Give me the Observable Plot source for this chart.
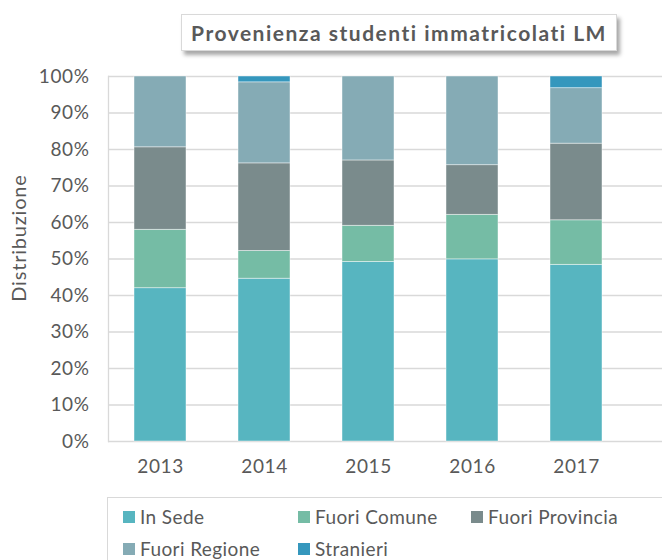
<!DOCTYPE html>
<html>
<head>
<meta charset="utf-8">
<script src="https://cdn.jsdelivr.net/npm/d3@7"></script>
<script src="https://cdn.jsdelivr.net/npm/@observablehq/plot@0.6"></script>
<style>
  html, body { margin: 0; padding: 0; background: #fff; }
  #wrap { position: relative; width: 662px; height: 560px; overflow: hidden; font-family: Lato, "Open Sans", sans-serif; color: #595959; }
  #chart { position: absolute; left: 0; top: 0; }
  #chart text { letter-spacing: 0.6px; }
  #title { position: absolute; left: 181px; top: 14px; width: 434px; height: 35px; background: #fff;
           border: 1px solid #d9d9d9; box-shadow: 3px 4px 4px rgba(0,0,0,0.35);
           display: flex; align-items: center; justify-content: center;
           font-weight: bold; font-size: 21px; letter-spacing: 1.5px; color: #595959; white-space: nowrap; }
  #ylabel { position: absolute; left: 18px; top: 238px; transform: translate(-50%, -50%) rotate(-90deg);
            font-size: 20px; letter-spacing: 0.8px; white-space: nowrap; }
  #legend { position: absolute; left: 107px; top: 497px; width: 600px; height: 80px; border: 1px solid #d9d9d9; background: #fff; }
  .item { position: absolute; display: flex; align-items: center; font-size: 19px; letter-spacing: 0.4px; white-space: nowrap; }
  .sw { width: 12px; height: 12px; margin-right: 5px; }
</style>
</head>
<body>
<div id="wrap">
  <div id="chart"></div>
  <div id="title">Provenienza studenti immatricolati LM</div>
  <div id="ylabel">Distribuzione</div>
  <div id="legend"></div>
</div>
<script>
const years = ["2013", "2014", "2015", "2016", "2017"];
const seriesNames = ["In Sede", "Fuori Comune", "Fuori Provincia", "Fuori Regione", "Stranieri"];
const colors = ["#57b5c0", "#75bca5", "#7a8b8c", "#85abb5", "#3597bd"];
// percentages per year
const inSede        = [42.0, 44.6, 49.2, 49.9, 48.4];
const fuoriComune   = [16.0,  7.6,  9.9, 12.2, 12.2];
const fuoriProvincia= [22.6, 24.0, 17.9, 13.6, 21.0];
const fuoriRegione  = [19.4, 22.2, 23.0, 24.3, 15.2];
const stranieri     = [ 0.0,  1.6,  0.0,  0.0,  3.2];
const yTicks = [0, 0.1, 0.2, 0.3, 0.4, 0.5, 0.6, 0.7, 0.8, 0.9, 1.0];

const seriesValues = [inSede, fuoriComune, fuoriProvincia, fuoriRegione, stranieri];
const data = [];
seriesNames.forEach((s, si) => {
  years.forEach((y, yi) => {
    const v = seriesValues[si][yi];
    if (v > 0) data.push({year: y, series: s, value: v / 100});
  });
});

const chart = Plot.plot({
  width: 662,
  height: 490,
  marginLeft: 108,
  marginRight: 0,
  marginTop: 76,
  marginBottom: 49,
  style: {fontFamily: "Lato, 'Open Sans', sans-serif", fontSize: "19px", color: "#595959", background: "transparent"},
  x: {domain: years, range: [108, 628], paddingInner: 0.5, paddingOuter: 0.25, label: null},
  y: {domain: [0, 1], label: null},
  color: {domain: seriesNames, range: colors},
  marks: [
    Plot.ruleY(yTicks, {stroke: "#d9d9d9", strokeWidth: 1.3}),
    Plot.frame({anchor: "left", stroke: "#d9d9d9", strokeWidth: 1.3}),
    Plot.barY(data, {x: "year", y: "value", fill: "series", z: "series", order: seriesNames,
                     stroke: "#ffffff", strokeOpacity: 0.55, strokeWidth: 0.8}),
    Plot.axisY({ticks: yTicks, tickFormat: d3.format(".0%"), tickSize: 0, tickPadding: 19, label: null, fill: "#595959"}),
    Plot.axisX({tickSize: 0, tickPadding: 18, label: null, fill: "#595959"})
  ]
});
document.getElementById("chart").appendChild(chart);

// legend
const legendPos = [[15, 19], [190, 19], [363, 19], [15, 51], [190, 51]];
const legend = document.getElementById("legend");
seriesNames.forEach((s, i) => {
  const it = document.createElement("div");
  it.className = "item";
  it.style.left = legendPos[i][0] + "px";
  it.style.top = (legendPos[i][1] - 12) + "px";
  const sw = document.createElement("div");
  sw.className = "sw";
  sw.style.background = colors[i];
  const tx = document.createElement("span");
  tx.textContent = s;
  it.appendChild(sw);
  it.appendChild(tx);
  legend.appendChild(it);
});
</script>
</body>
</html>
